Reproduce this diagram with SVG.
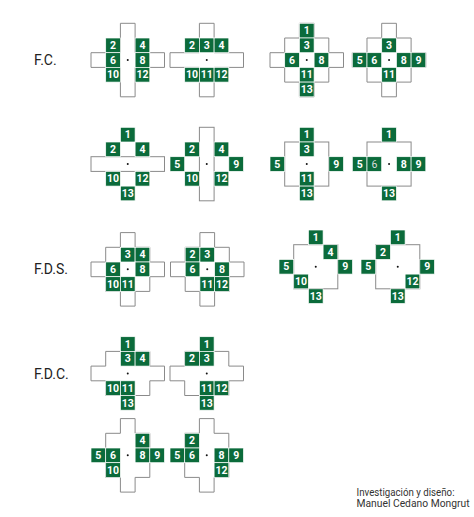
<svg xmlns="http://www.w3.org/2000/svg" xmlns:xlink="http://www.w3.org/1999/xlink" width="474" height="517" viewBox="0 0 474 517">
<style>
.sh{fill:#fff;stroke:#8a8a8a;stroke-width:1}
.gc{fill:#0b6b3b;stroke:#fff;stroke-width:0.7}
.n{fill:#fff;font-family:Roboto,"Liberation Sans",Arial,sans-serif;font-weight:bold;font-size:10.5px;text-anchor:middle}
.lbl{fill:#222;font-family:Roboto,"Liberation Sans",Arial,sans-serif;font-size:14px}
.cr{fill:#333;font-family:Roboto,"Liberation Sans",Arial,sans-serif;font-size:10.6px}
</style>
<defs>
<polygon id="cross" class="sh" points="29.4,0 44.1,0 44.1,29.4 73.5,29.4 73.5,44.1 44.1,44.1 44.1,73.5 29.4,73.5 29.4,44.1 0,44.1 0,29.4 29.4,29.4"/>
<polygon id="diamond" class="sh" points="29.4,0 44.1,0 44.1,14.7 58.8,14.7 58.8,29.4 73.5,29.4 73.5,44.1 58.8,44.1 58.8,58.8 44.1,58.8 44.1,73.5 29.4,73.5 29.4,58.8 14.7,58.8 14.7,44.1 0,44.1 0,29.4 14.7,29.4 14.7,14.7 29.4,14.7"/>
<rect id="hbar" class="sh" x="0" y="29.4" width="73.5" height="14.7"/>
<rect id="vbar" class="sh" x="29.4" y="0" width="14.7" height="73.5"/>
<rect id="square" class="sh" x="14.7" y="14.7" width="44.1" height="44.1"/>
<polygon id="sqh" class="sh" points="14.7,14.7 58.8,14.7 58.8,29.4 73.5,29.4 73.5,44.1 58.8,44.1 58.8,58.8 14.7,58.8 14.7,44.1 0,44.1 0,29.4 14.7,29.4"/>
<polygon id="sqv" class="sh" points="29.4,0 44.1,0 44.1,14.7 58.8,14.7 58.8,58.8 44.1,58.8 44.1,73.5 29.4,73.5 29.4,58.8 14.7,58.8 14.7,14.7 29.4,14.7"/>
<rect id="g" class="gc" x="-0.5" y="-0.5" width="14.7" height="14.7"/>
<circle id="dot" cx="36.75" cy="36.75" r="1" fill="#111"/>
</defs>

<text class="lbl" x="34" y="65">F.C.</text>
<text class="lbl" x="34" y="274">F.D.S.</text>
<text class="lbl" x="34" y="378.5">F.D.C.</text>

<!-- Row A -->
<g id="a1" transform="translate(91,23.3)">
<use xlink:href="#cross"/><use xlink:href="#dot"/>
<use xlink:href="#g" x="15.2" y="15.2"/><text class="n" x="22.05" y="25.75">2</text>
<use xlink:href="#g" x="44.6" y="15.2"/><text class="n" x="51.45" y="25.75">4</text>
<use xlink:href="#g" x="15.2" y="29.9"/><text class="n" x="22.05" y="40.45">6</text>
<use xlink:href="#g" x="44.6" y="29.9"/><text class="n" x="51.45" y="40.45">8</text>
<use xlink:href="#g" x="15.2" y="44.6"/><text class="n" x="22.05" y="55.15">10</text>
<use xlink:href="#g" x="44.6" y="44.6"/><text class="n" x="51.45" y="55.15">12</text>
</g>
<g id="a2" transform="translate(170,23.3)">
<use xlink:href="#cross"/><use xlink:href="#dot"/>
<use xlink:href="#g" x="15.2" y="15.2"/><text class="n" x="22.05" y="25.75">2</text>
<use xlink:href="#g" x="29.9" y="15.2"/><text class="n" x="36.75" y="25.75">3</text>
<use xlink:href="#g" x="44.6" y="15.2"/><text class="n" x="51.45" y="25.75">4</text>
<use xlink:href="#g" x="15.2" y="44.6"/><text class="n" x="22.05" y="55.15">10</text>
<use xlink:href="#g" x="29.9" y="44.6"/><text class="n" x="36.75" y="55.15">11</text>
<use xlink:href="#g" x="44.6" y="44.6"/><text class="n" x="51.45" y="55.15">12</text>
</g>
<g id="a3" transform="translate(270,23.3)">
<use xlink:href="#diamond"/><use xlink:href="#dot"/>
<use xlink:href="#g" x="29.9" y="0.5"/><text class="n" x="36.75" y="11.05">1</text>
<use xlink:href="#g" x="29.9" y="15.2"/><text class="n" x="36.75" y="25.75">3</text>
<use xlink:href="#g" x="15.2" y="29.9"/><text class="n" x="22.05" y="40.45">6</text>
<use xlink:href="#g" x="44.6" y="29.9"/><text class="n" x="51.45" y="40.45">8</text>
<use xlink:href="#g" x="29.9" y="44.6"/><text class="n" x="36.75" y="55.15">11</text>
<use xlink:href="#g" x="29.9" y="59.3"/><text class="n" x="36.75" y="69.85">13</text>
</g>
<g id="a4" transform="translate(352.3,23.3)">
<use xlink:href="#diamond"/><use xlink:href="#dot"/>
<use xlink:href="#g" x="29.9" y="15.2"/><text class="n" x="36.75" y="25.75">3</text>
<use xlink:href="#g" x="0.5" y="29.9"/><text class="n" x="7.35" y="40.45">5</text>
<use xlink:href="#g" x="15.2" y="29.9"/><text class="n" x="22.05" y="40.45">6</text>
<use xlink:href="#g" x="44.6" y="29.9"/><text class="n" x="51.45" y="40.45">8</text>
<use xlink:href="#g" x="59.3" y="29.9"/><text class="n" x="66.15" y="40.45">9</text>
<use xlink:href="#g" x="29.9" y="44.6"/><text class="n" x="36.75" y="55.15">11</text>
</g>

<!-- Row B -->
<g id="b1" transform="translate(91,127.3)">
<use xlink:href="#hbar"/><use xlink:href="#dot"/>
<use xlink:href="#g" x="29.9" y="0.5"/><text class="n" x="36.75" y="11.05">1</text>
<use xlink:href="#g" x="15.2" y="15.2"/><text class="n" x="22.05" y="25.75">2</text>
<use xlink:href="#g" x="44.6" y="15.2"/><text class="n" x="51.45" y="25.75">4</text>
<use xlink:href="#g" x="15.2" y="44.6"/><text class="n" x="22.05" y="55.15">10</text>
<use xlink:href="#g" x="44.6" y="44.6"/><text class="n" x="51.45" y="55.15">12</text>
<use xlink:href="#g" x="29.9" y="59.3"/><text class="n" x="36.75" y="69.85">13</text>
</g>
<g id="b2" transform="translate(170,127.3)">
<use xlink:href="#vbar"/><use xlink:href="#dot"/>
<use xlink:href="#g" x="15.2" y="15.2"/><text class="n" x="22.05" y="25.75">2</text>
<use xlink:href="#g" x="44.6" y="15.2"/><text class="n" x="51.45" y="25.75">4</text>
<use xlink:href="#g" x="0.5" y="29.9"/><text class="n" x="7.35" y="40.45">5</text>
<use xlink:href="#g" x="59.3" y="29.9"/><text class="n" x="66.15" y="40.45">9</text>
<use xlink:href="#g" x="15.2" y="44.6"/><text class="n" x="22.05" y="55.15">10</text>
<use xlink:href="#g" x="44.6" y="44.6"/><text class="n" x="51.45" y="55.15">12</text>
</g>
<g id="b3" transform="translate(270,127.3)">
<use xlink:href="#square"/><use xlink:href="#dot"/>
<use xlink:href="#g" x="29.9" y="0.5"/><text class="n" x="36.75" y="11.05">1</text>
<use xlink:href="#g" x="29.9" y="15.2"/><text class="n" x="36.75" y="25.75">3</text>
<use xlink:href="#g" x="0.5" y="29.9"/><text class="n" x="7.35" y="40.45">5</text>
<use xlink:href="#g" x="59.3" y="29.9"/><text class="n" x="66.15" y="40.45">9</text>
<use xlink:href="#g" x="29.9" y="44.6"/><text class="n" x="36.75" y="55.15">11</text>
<use xlink:href="#g" x="29.9" y="59.3"/><text class="n" x="36.75" y="69.85">13</text>
</g>
<g id="b4" transform="translate(352.3,127.3)">
<use xlink:href="#square"/><use xlink:href="#dot"/>
<use xlink:href="#g" x="29.9" y="0.5"/><text class="n" x="36.75" y="11.05">1</text>
<use xlink:href="#g" x="0.5" y="29.9"/><text class="n" x="7.35" y="40.45">5</text>
<use xlink:href="#g" x="15.2" y="29.9"/><text class="n" x="22.05" y="40.45" style="font-weight:normal;fill:#dcdcdc">6</text>
<use xlink:href="#g" x="44.6" y="29.9"/><text class="n" x="51.45" y="40.45">8</text>
<use xlink:href="#g" x="59.3" y="29.9"/><text class="n" x="66.15" y="40.45">9</text>
<use xlink:href="#g" x="29.9" y="59.3"/><text class="n" x="36.75" y="69.85">13</text>
</g>

<!-- Row C -->
<g id="c1" transform="translate(91,232.6)">
<use xlink:href="#diamond"/><use xlink:href="#dot"/>
<use xlink:href="#g" x="29.9" y="15.2"/><text class="n" x="36.75" y="25.75">3</text>
<use xlink:href="#g" x="44.6" y="15.2"/><text class="n" x="51.45" y="25.75">4</text>
<use xlink:href="#g" x="15.2" y="29.9"/><text class="n" x="22.05" y="40.45">6</text>
<use xlink:href="#g" x="44.6" y="29.9"/><text class="n" x="51.45" y="40.45">8</text>
<use xlink:href="#g" x="15.2" y="44.6"/><text class="n" x="22.05" y="55.15">10</text>
<use xlink:href="#g" x="29.9" y="44.6"/><text class="n" x="36.75" y="55.15">11</text>
</g>
<g id="c2" transform="translate(170.5,232.6)">
<use xlink:href="#diamond"/><use xlink:href="#dot"/>
<use xlink:href="#g" x="15.2" y="15.2"/><text class="n" x="22.05" y="25.75">2</text>
<use xlink:href="#g" x="29.9" y="15.2"/><text class="n" x="36.75" y="25.75">3</text>
<use xlink:href="#g" x="15.2" y="29.9"/><text class="n" x="22.05" y="40.45">6</text>
<use xlink:href="#g" x="44.6" y="29.9"/><text class="n" x="51.45" y="40.45">8</text>
<use xlink:href="#g" x="29.9" y="44.6"/><text class="n" x="36.75" y="55.15">11</text>
<use xlink:href="#g" x="44.6" y="44.6"/><text class="n" x="51.45" y="55.15">12</text>
</g>
<g id="c3" transform="translate(279,230)">
<use xlink:href="#square"/><use xlink:href="#dot"/>
<use xlink:href="#g" x="29.9" y="0.5"/><text class="n" x="36.75" y="11.05">1</text>
<use xlink:href="#g" x="44.6" y="15.2"/><text class="n" x="51.45" y="25.75">4</text>
<use xlink:href="#g" x="0.5" y="29.9"/><text class="n" x="7.35" y="40.45">5</text>
<use xlink:href="#g" x="59.3" y="29.9"/><text class="n" x="66.15" y="40.45">9</text>
<use xlink:href="#g" x="15.2" y="44.6"/><text class="n" x="22.05" y="55.15">10</text>
<use xlink:href="#g" x="29.9" y="59.3"/><text class="n" x="36.75" y="69.85">13</text>
</g>
<g id="c4" transform="translate(361,230)">
<use xlink:href="#square"/><use xlink:href="#dot"/>
<use xlink:href="#g" x="29.9" y="0.5"/><text class="n" x="36.75" y="11.05">1</text>
<use xlink:href="#g" x="15.2" y="15.2"/><text class="n" x="22.05" y="25.75">2</text>
<use xlink:href="#g" x="0.5" y="29.9"/><text class="n" x="7.35" y="40.45">5</text>
<use xlink:href="#g" x="59.3" y="29.9"/><text class="n" x="66.15" y="40.45">9</text>
<use xlink:href="#g" x="44.6" y="44.6"/><text class="n" x="51.45" y="55.15">12</text>
<use xlink:href="#g" x="29.9" y="59.3"/><text class="n" x="36.75" y="69.85">13</text>
</g>

<!-- Row D -->
<g id="d1" transform="translate(91,336.7)">
<use xlink:href="#sqh"/><use xlink:href="#dot"/>
<use xlink:href="#g" x="29.9" y="0.5"/><text class="n" x="36.75" y="11.05">1</text>
<use xlink:href="#g" x="29.9" y="15.2"/><text class="n" x="36.75" y="25.75">3</text>
<use xlink:href="#g" x="44.6" y="15.2"/><text class="n" x="51.45" y="25.75">4</text>
<use xlink:href="#g" x="15.2" y="44.6"/><text class="n" x="22.05" y="55.15">10</text>
<use xlink:href="#g" x="29.9" y="44.6"/><text class="n" x="36.75" y="55.15">11</text>
<use xlink:href="#g" x="29.9" y="59.3"/><text class="n" x="36.75" y="69.85">13</text>
</g>
<g id="d2" transform="translate(170,336.7)">
<use xlink:href="#sqh"/><use xlink:href="#dot"/>
<use xlink:href="#g" x="29.9" y="0.5"/><text class="n" x="36.75" y="11.05">1</text>
<use xlink:href="#g" x="15.2" y="15.2"/><text class="n" x="22.05" y="25.75">2</text>
<use xlink:href="#g" x="29.9" y="15.2"/><text class="n" x="36.75" y="25.75">3</text>
<use xlink:href="#g" x="29.9" y="44.6"/><text class="n" x="36.75" y="55.15">11</text>
<use xlink:href="#g" x="44.6" y="44.6"/><text class="n" x="51.45" y="55.15">12</text>
<use xlink:href="#g" x="29.9" y="59.3"/><text class="n" x="36.75" y="69.85">13</text>
</g>

<!-- Row E -->
<g id="e1" transform="translate(91,418.6)">
<use xlink:href="#sqv"/><use xlink:href="#dot"/>
<use xlink:href="#g" x="44.6" y="15.2"/><text class="n" x="51.45" y="25.75">4</text>
<use xlink:href="#g" x="0.5" y="29.9"/><text class="n" x="7.35" y="40.45">5</text>
<use xlink:href="#g" x="15.2" y="29.9"/><text class="n" x="22.05" y="40.45">6</text>
<use xlink:href="#g" x="44.6" y="29.9"/><text class="n" x="51.45" y="40.45">8</text>
<use xlink:href="#g" x="59.3" y="29.9"/><text class="n" x="66.15" y="40.45">9</text>
<use xlink:href="#g" x="15.2" y="44.6"/><text class="n" x="22.05" y="55.15">10</text>
</g>
<g id="e2" transform="translate(170,418.6)">
<use xlink:href="#sqv"/><use xlink:href="#dot"/>
<use xlink:href="#g" x="15.2" y="15.2"/><text class="n" x="22.05" y="25.75">2</text>
<use xlink:href="#g" x="0.5" y="29.9"/><text class="n" x="7.35" y="40.45">5</text>
<use xlink:href="#g" x="15.2" y="29.9"/><text class="n" x="22.05" y="40.45">6</text>
<use xlink:href="#g" x="44.6" y="29.9"/><text class="n" x="51.45" y="40.45">8</text>
<use xlink:href="#g" x="59.3" y="29.9"/><text class="n" x="66.15" y="40.45">9</text>
<use xlink:href="#g" x="44.6" y="44.6"/><text class="n" x="51.45" y="55.15">12</text>
</g>

<g id="credit">
<text class="cr" x="356.5" y="495.5" textLength="98" lengthAdjust="spacingAndGlyphs">Investigación y diseño:</text>
<text class="cr" x="356.5" y="507" textLength="113" lengthAdjust="spacingAndGlyphs">Manuel Cedano Mongrut</text>
</g>
</svg>
